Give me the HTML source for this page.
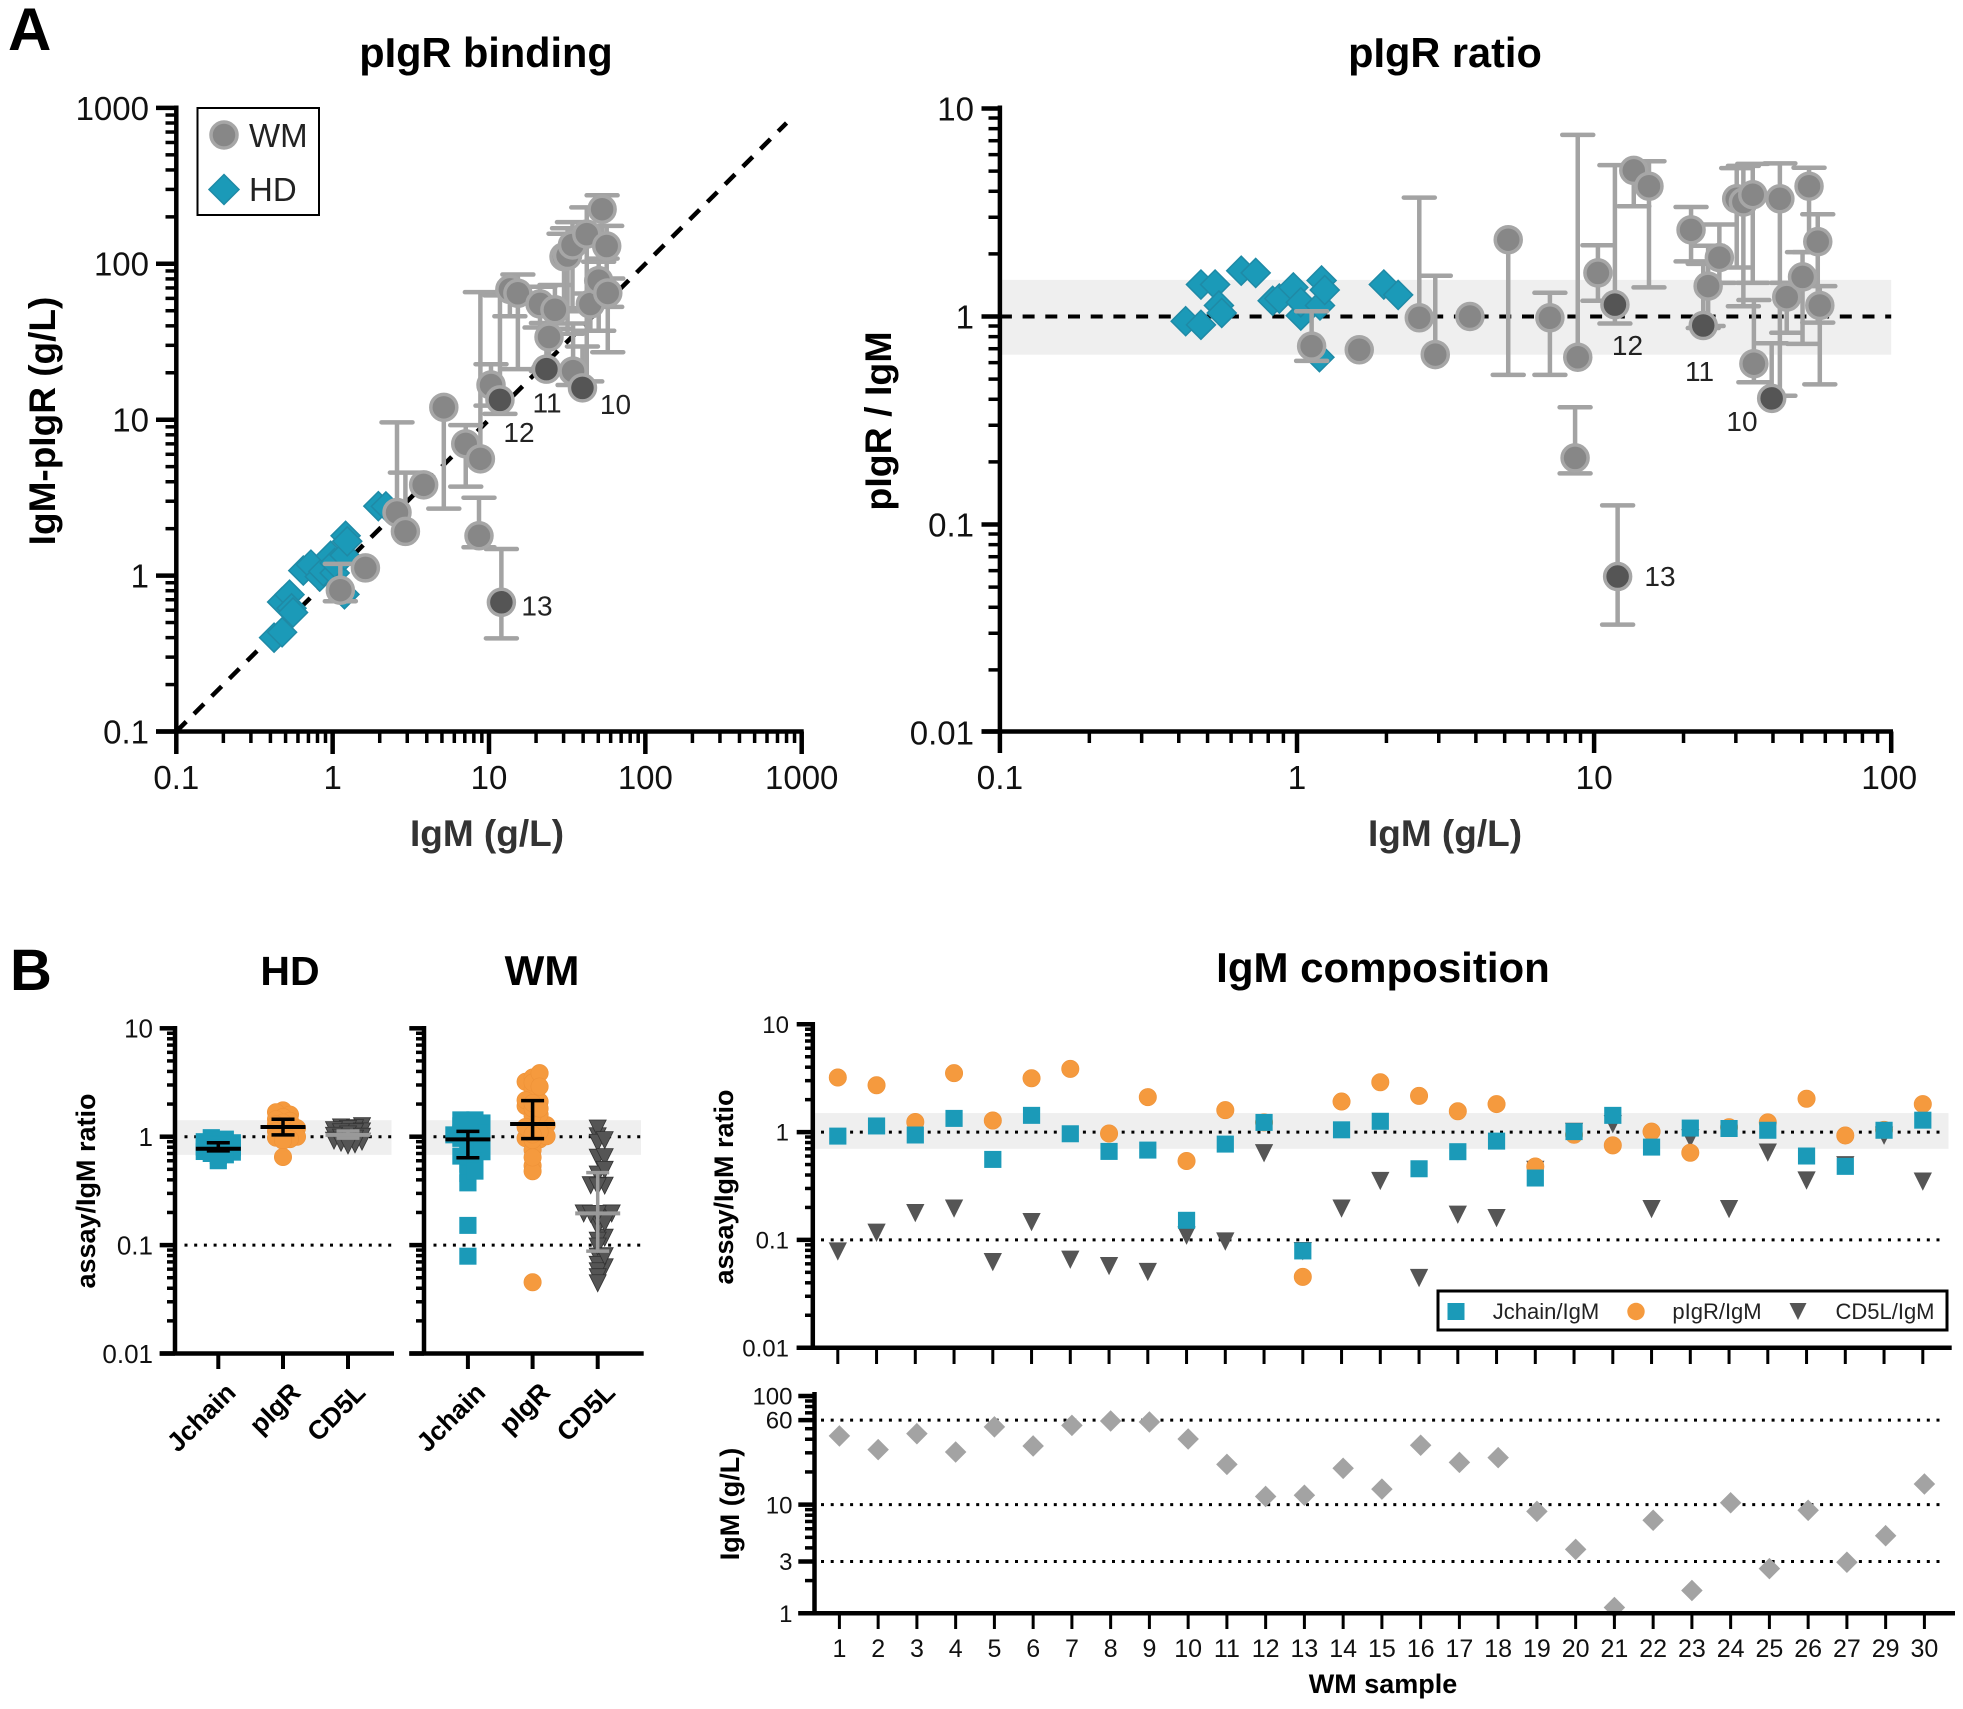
<!DOCTYPE html>
<html lang="en">
<head>
<meta charset="utf-8">
<title>pIgR binding and IgM composition</title>
<style>
html,body{margin:0;padding:0;background:#fff}
svg{display:block;font-family:"Liberation Sans",Arial,sans-serif}
text{fill:#000}
.b{font-weight:bold}
</style>
</head>
<body>
<svg id="figure" xmlns="http://www.w3.org/2000/svg" width="1963" height="1709" viewBox="0 0 1963 1709">
  <rect x="0" y="0" width="1963" height="1709" fill="#fff"/>

  <text class="b" x="8" y="50" font-size="60">A</text>
  <text class="b" x="10" y="990" font-size="58">B</text>

  <text class="b" x="486" y="67" font-size="41.5" text-anchor="middle">pIgR binding</text>
  <text class="b" x="1445" y="67" font-size="41.5" text-anchor="middle">pIgR ratio</text>
  <text class="b" x="290" y="985" font-size="41" text-anchor="middle">HD</text>
  <text class="b" x="542" y="985" font-size="42" text-anchor="middle">WM</text>
  <text class="b" x="1383" y="982" font-size="42" text-anchor="middle">IgM composition</text>

  <text class="b" x="487" y="846" font-size="37" text-anchor="middle" style="fill:#333">IgM (g/L)</text>
  <text class="b" x="1445" y="846" font-size="37" text-anchor="middle" style="fill:#333">IgM (g/L)</text>
  <text class="b" transform="translate(55,421) rotate(-90)" font-size="37" text-anchor="middle">IgM-pIgR (g/L)</text>
  <text class="b" transform="translate(891,421) rotate(-90)" font-size="37.5" text-anchor="middle">pIgR / IgM</text>
  <text class="b" transform="translate(95,1191) rotate(-90)" font-size="27" text-anchor="middle">assay/IgM ratio</text>
  <text class="b" transform="translate(733,1187) rotate(-90)" font-size="27" text-anchor="middle">assay/IgM ratio</text>
  <text class="b" transform="translate(739,1504) rotate(-90)" font-size="27" text-anchor="middle">IgM (g/L)</text>
  <text class="b" x="1383" y="1693" font-size="27" text-anchor="middle">WM sample</text>

  <g id="layer-plots"></g>

  <g>
    <rect x="197.5" y="108" width="121.5" height="107" fill="#fff" stroke="#000" stroke-width="2"/>
    <circle cx="224" cy="135" r="13" fill="#878787" stroke="#a6a6a6" stroke-width="3.5"/>
    <text x="249" y="147" font-size="33" style="fill:#222">WM</text>
    <polygon points="224,174.5 239,189.5 224,204.5 209,189.5" fill="#1b9ab8" stroke="#1f8aa6" stroke-width="1.5"/>
    <text x="249" y="201" font-size="33" style="fill:#222">HD</text>
  </g>

  <g font-size="28">
    <text x="615.5" y="414" text-anchor="middle" style="fill:#222">10</text>
    <text x="547" y="412.5" text-anchor="middle" style="fill:#222">11</text>
    <text x="519" y="442" text-anchor="middle" style="fill:#222">12</text>
    <text x="537" y="615.5" text-anchor="middle" style="fill:#222">13</text>
  </g>
  <g font-size="28">
    <text x="1742" y="431" text-anchor="middle" style="fill:#222">10</text>
    <text x="1699.5" y="381" text-anchor="middle" style="fill:#222">11</text>
    <text x="1627.5" y="355" text-anchor="middle" style="fill:#222">12</text>
    <text x="1660" y="586" text-anchor="middle" style="fill:#222">13</text>
  </g>

  <g>
    <rect x="1438" y="1291" width="509" height="39" fill="#fff" stroke="#000" stroke-width="3"/>
    <rect x="1447.5" y="1303" width="17" height="17" fill="#1b9ab8"/>
    <text x="1546" y="1319" font-size="22" text-anchor="middle" style="fill:#222">Jchain/IgM</text>
    <circle cx="1636" cy="1311.5" r="8.7" fill="#f59a3e"/>
    <text x="1717" y="1319" font-size="22" text-anchor="middle" style="fill:#222">pIgR/IgM</text>
    <polygon points="1789.5,1303 1806.5,1303 1798,1320" fill="#555"/>
    <text x="1885" y="1319" font-size="22" text-anchor="middle" style="fill:#222">CD5L/IgM</text>
  </g>
</svg>

<script>
// ---- panel A: per-donor values ----
const hdIgM = [0.422,0.475,0.475,0.53,0.546,0.558,0.649,0.726,0.828,0.872,0.972,1.03,1.03,1.195,1.21,1.24,1.19,1.96,2.19];
const hdBinding = [0.40,0.433,0.677,0.755,0.617,0.58,1.077,1.176,0.985,1.064,1.341,1.04,1.205,1.35,1.80,1.66,0.758,2.79,2.78];
const hdRatio = [0.949,0.912,1.425,1.425,1.13,1.04,1.66,1.62,1.19,1.22,1.38,1.01,1.17,1.13,1.49,1.34,0.637,1.425,1.27];

const wmIgM = [1.12,1.62,2.58,2.92,3.82,5.14,7.1,8.63,8.81,10.3,11.75,12,13.6,15.3,21.2,23.3,24.2,26.4,30.2,31.8,34.2,34.5,39.6,42.2,44.5,50.3,52.9,56.6,57.5];
const wmBinding = [0.806,1.12,2.54,1.92,3.82,12.0,7.0,1.80,5.61,16.7,13.4,0.674,68.5,64.7,55.3,21.1,33.9,50.7,111,113,132,20.5,16.0,155,55.2,78,224,130,65];
const wmBindingHi = [1.19,1.12,9.62,4.58,3.82,12.0,9.23,3.16,65.8,22.7,62.7,1.48,68.5,85.4,71.2,41.7,53,73.1,156,169,185,41.4,29.5,230,64.5,103,275,175,80.5];
const wmBindingLo = [0.685,1.12,2.54,1.92,3.82,2.69,3.72,1.52,5.61,12.3,10.9,0.396,46.1,21.1,39,20.5,21.8,38.3,51.9,35.6,49.6,16.7,16.0,17.6,37.2,37.2,108,52.9,27.1];
const wmRatio = [0.72,0.692,0.986,0.656,1.0,2.34,0.986,0.209,0.637,1.62,1.14,0.0562,5.04,4.23,2.61,0.905,1.4,1.92,3.68,3.55,3.85,0.593,0.404,3.68,1.24,1.55,4.23,2.29,1.13];
const wmRatioHi = [1.06,0.692,3.73,1.57,1.0,2.34,1.3,0.366,7.47,2.2,5.34,0.1236,5.04,5.58,3.36,1.79,2.19,2.77,5.17,5.3,5.42,1.2,0.744,5.45,1.45,2.04,5.19,3.1,1.4];
const wmRatioLo = [0.612,0.692,0.986,0.656,1.0,0.524,0.524,0.176,0.637,1.19,0.925,0.033,3.39,1.38,1.84,0.88,0.9,1.45,1.72,1.12,1.45,0.483,0.404,0.416,0.835,0.739,2.04,0.935,0.472];
const wmCalloutFlag = [0,0,0,0,0,0,0,0,0,0,1,1,0,0,0,1,0,0,0,0,0,0,1,0,0,0,0,0,0];

const bindingTicks = [0.1,1,10,100,1000];
const bindingTickLabels = ["0.1","1","10","100","1000"];
const ratioXTicks = [0.1,1,10,100];
const ratioXTickLabels = ["0.1","1","10","100"];
const ratioYTicks = [0.01,0.1,1,10];
const ratioYTickLabels = ["0.01","0.1","1","10"];
const ratioBand = [0.655,1.5];

// ---- panel B: per-sample values ----
const sampleLabels = ["1","2","3","4","5","6","7","8","9","10","11","12","13","14","15","16","17","18","19","20","21","22","23","24","25","26","27","29","30"];
const jchainRatio = [0.918,1.14,0.94,1.34,0.558,1.43,0.965,0.662,0.681,0.152,0.774,1.23,0.079,1.05,1.26,0.457,0.658,0.825,0.375,1.01,1.43,0.726,1.09,1.08,1.04,0.6,0.481,1.04,1.29];
const pigrRatio = [3.21,2.72,1.24,3.52,1.28,3.16,3.86,0.97,2.11,0.539,1.6,1.23,0.0454,1.92,2.9,2.17,1.56,1.82,0.48,0.945,0.753,1.01,0.644,1.11,1.23,2.04,0.93,1.05,1.82];
const cd5lRatio = [0.0785,0.117,0.178,0.196,0.0625,0.147,0.0658,0.0574,0.0506,0.11,0.097,0.64,0.079,0.196,0.354,0.0445,0.172,0.16,0.448,1.01,1.19,0.194,0.88,0.194,0.648,0.357,0.495,0.93,0.349];
const sampleIgM = [42.9,32.1,45,30.5,52,34.7,53.7,58.9,57.7,40.2,23.5,11.9,12.2,21.6,13.9,35.2,24.5,27.1,8.68,3.88,1.13,7.18,1.62,10.4,2.58,8.87,2.95,5.18,15.5];

const hdJchain = [0.98,0.95,0.93,0.9,0.88,0.86,0.85,0.83,0.8,0.79,0.78,0.77,0.75,0.73,0.72,0.7,0.68,0.67,0.6];
const hdPigr = [1.75,1.68,1.6,1.52,1.45,1.4,1.35,1.3,1.25,1.2,1.18,1.12,1.08,1.05,1.0,0.98,0.95,0.92,0.65];
const hdCd5l = [1.25,1.22,1.2,1.18,1.15,1.12,1.1,1.1,1.05,1.02,1.0,0.98,0.96,0.94,0.92,0.9,0.88,0.85,0.83];

const stripCategories = ["Jchain","pIgR","CD5L"];
const hdSummaryMid = [0.775,1.23,1.04];
const hdSummaryHi = [0.88,1.45,1.13];
const hdSummaryLo = [0.74,1.04,0.97];
const wmSummaryMid = [0.946,1.31,0.196];
const wmSummaryHi = [1.12,2.15,0.466];
const wmSummaryLo = [0.64,0.96,0.088];

const assayTicks = [0.01,0.1,1,10];
const assayTickLabels = ["0.01","0.1","1","10"];
const stripBand = [0.68,1.42];
const compositionBand = [0.7,1.5];
const assayRefLines = [1,0.1];
const igmTicks = [1,3,10,60,100];
const igmTickLabels = ["1","3","10","60","100"];
const igmRefLines = [60,10,3];

// ---- helpers ----
const SVGNS = "http://www.w3.org/2000/svg";
const root = document.getElementById("layer-plots");
const BLACK = "#000", ERR = "#a3a3a3", GRAYF = "#878787", DARKF = "#555", TEAL = "#1b9ab8", TEALS = "#1f8aa6", ORANGE = "#f59a3e";

function add(tag, attrs, name, parent, text) {
  const node = document.createElementNS(SVGNS, tag);
  for (const k in attrs) node.setAttribute(k, attrs[k]);
  
  
  if (text !== undefined) node.textContent = text;
  (parent || root).appendChild(node);
  return node;
}
function group(name) { return add("g", {}, name); }
function logScale(d0, d1, r0, r1) {
  const a = Math.log10(d0), b = Math.log10(d1);
  return v => r0 + (Math.log10(v) - a) / (b - a) * (r1 - r0);
}
function line(g, x1, y1, x2, y2, stroke, w, name, extra) {
  return add("line", Object.assign({x1, y1, x2, y2, stroke, "stroke-width": w}, extra || {}), name, g);
}
function minorValues(lo, hi) {
  const out = [];
  for (let d = lo; d < hi * 0.999; d *= 10) for (let m = 2; m <= 9; m++) out.push(d * m);
  return out;
}
function circle(g, cx, cy, fill, name) {
  return add("circle", {cx, cy, r: 13, fill, stroke: "#a6a6a6", "stroke-width": 3.5}, name, g);
}
function diamond(g, cx, cy, h, fill, stroke, name) {
  return add("polygon", {points: `${cx},${cy-h} ${cx+h},${cy} ${cx},${cy+h} ${cx-h},${cy}`, fill, stroke, "stroke-width": 1.5}, name, g);
}
function square(g, cx, cy, name) {
  return add("rect", {x: cx-8.6, y: cy-8.5, width: 17.2, height: 17, fill: TEAL}, name, g);
}
function dot(g, cx, cy, name) {
  return add("circle", {cx, cy, r: 8.7, fill: ORANGE, stroke: "#ee9238", "stroke-width": 0.6}, name, g);
}
function tri(g, cx, cy, stroke, name) {
  return add("polygon", {points: `${cx-8.5},${cy-8.5} ${cx+8.5},${cy-8.5} ${cx},${cy+8.5}`, fill: DARKF, stroke, "stroke-width": 0.8}, name, g);
}
function errorBar(g, x, yHi, yLo, yMid, name) {
  const capW = 15.5;
  if (yHi < yMid - 0.5) {
    line(g, x, yMid, x, yHi, ERR, 4.5, name + "-upper");
    line(g, x-capW, yHi, x+capW, yHi, ERR, 4.5, name + "-upper-cap", {"stroke-linecap": "round"});
  }
  if (yLo > yMid + 0.5) {
    line(g, x, yMid, x, yLo, ERR, 4.5, name + "-lower");
    line(g, x-capW, yLo, x+capW, yLo, ERR, 4.5, name + "-lower-cap", {"stroke-linecap": "round"});
  }
}
function labelRight(g, x, y, size, s, name) {
  return add("text", {x, y: y + size * 0.36, "font-size": size, "text-anchor": "end", style: "fill:#111"}, name, g, s);
}
function labelCenter(g, x, y, size, s, name) {
  return add("text", {x, y, "font-size": size, "text-anchor": "middle", style: "fill:#111"}, name, g, s);
}

// ---- panel A left: pIgR binding ----
(function () {
  const x = logScale(0.1, 1000, 176.3, 801.7), y = logScale(0.1, 1000, 731.5, 107.9);
  const g = group("pigr-binding-plot");
  line(g, x(0.1), y(0.1), x(800), y(800), BLACK, 4.5, "identity-line", {"stroke-dasharray": "14 11"});
  hdIgM.forEach((v, i) => diamond(g, x(v), y(hdBinding[i]), 14.5, TEAL, TEALS, "hd-point"));
  wmIgM.forEach((v, i) => errorBar(g, x(v), y(wmBindingHi[i]), y(wmBindingLo[i]), y(wmBinding[i]), "wm-error-bar"));
  wmIgM.forEach((v, i) => { if (!wmCalloutFlag[i]) circle(g, x(v), y(wmBinding[i]), GRAYF, "wm-point"); });
  wmIgM.forEach((v, i) => { if (wmCalloutFlag[i]) circle(g, x(v), y(wmBinding[i]), DARKF, "wm-highlight-point"); });
  const ax = group("pigr-binding-axes");
  line(ax, x(0.1), 105.5, x(0.1), 733.7, BLACK, 4.5, "binding-y-axis");
  line(ax, 156, y(0.1), 803.7, y(0.1), BLACK, 4.5, "binding-x-axis");
  minorValues(0.1, 1000).forEach(v => {
    line(ax, 165.5, y(v), x(0.1), y(v), BLACK, 3.5, "binding-y-minor-tick");
    line(ax, x(v), y(0.1), x(v), 743, BLACK, 3.5, "binding-x-minor-tick");
  });
  bindingTicks.forEach((v, i) => {
    line(ax, 156, y(v), x(0.1), y(v), BLACK, 4.5, "binding-y-tick");
    line(ax, x(v), y(0.1), x(v), 754, BLACK, 4.5, "binding-x-tick");
    labelRight(ax, 149, y(v), 33, bindingTickLabels[i], "binding-y-tick-label");
    labelCenter(ax, x(v), 789, 33, bindingTickLabels[i], "binding-x-tick-label");
  });
})();

// ---- panel A right: pIgR ratio ----
(function () {
  const x = logScale(0.1, 100, 999.9, 1891.2), y = logScale(0.01, 10, 732.5, 108.5);
  const g = group("pigr-ratio-plot");
  add("rect", {x: x(0.1), y: y(ratioBand[1]), width: x(100) - x(0.1), height: y(ratioBand[0]) - y(ratioBand[1]), fill: "#efefef"}, "ratio-normal-band", g);
  line(g, x(0.1), y(1), x(100), y(1), BLACK, 4, "ratio-one-line", {"stroke-dasharray": "12 10.7"});
  hdIgM.forEach((v, i) => diamond(g, x(v), y(hdRatio[i]), 14.5, TEAL, TEALS, "hd-point"));
  wmIgM.forEach((v, i) => errorBar(g, x(v), y(wmRatioHi[i]), y(wmRatioLo[i]), y(wmRatio[i]), "wm-error-bar"));
  wmIgM.forEach((v, i) => { if (!wmCalloutFlag[i]) circle(g, x(v), y(wmRatio[i]), GRAYF, "wm-point"); });
  wmIgM.forEach((v, i) => { if (wmCalloutFlag[i]) circle(g, x(v), y(wmRatio[i]), DARKF, "wm-highlight-point"); });
  const ax = group("pigr-ratio-axes");
  line(ax, x(0.1), 105.5, x(0.1), 733.7, BLACK, 4.5, "ratio-y-axis");
  line(ax, 981.5, 731.5, 1893, 731.5, BLACK, 4.5, "ratio-x-axis");
  minorValues(0.01, 10).forEach(v => line(ax, 988.5, y(v), x(0.1), y(v), BLACK, 3.5, "ratio-y-minor-tick"));
  minorValues(0.1, 100).forEach(v => line(ax, x(v), 731.5, x(v), 743, BLACK, 3.5, "ratio-x-minor-tick"));
  ratioYTicks.forEach((v, i) => {
    line(ax, 981.5, y(v) - (v === 0.01 ? 1 : 0), x(0.1), y(v) - (v === 0.01 ? 1 : 0), BLACK, 4.5, "ratio-y-tick");
    labelRight(ax, 974, y(v), 33, ratioYTickLabels[i], "ratio-y-tick-label");
  });
  ratioXTicks.forEach((v, i) => {
    line(ax, x(v), 731.5, x(v), 753, BLACK, 4.5, "ratio-x-tick");
    labelCenter(ax, x(v) - (i === 3 ? 2 : 0), 789, 33.5, ratioXTickLabels[i], "ratio-x-tick-label");
  });
})();

// ---- panel B strips ----
function swarmOffsets(values, yFn, step, minGap) {
  const order = values.map((v, i) => i).sort((a, b) => values[a] - values[b]);
  const placed = [], off = new Array(values.length).fill(0);
  const cands = [0, step, -step, 2 * step, -2 * step];
  order.forEach(i => {
    const py = yFn(values[i]);
    let best = 0, bestGap = -1;
    for (const c of cands) {
      const same = placed.filter(p => Math.abs(p.x - c) < step * 0.5);
      const gap = same.length ? Math.min.apply(null, same.map(p => Math.abs(p.y - py))) : 999;
      if (gap >= minGap) { best = c; bestGap = gap; break; }
      if (gap > bestGap) { best = c; bestGap = gap; }
    }
    off[i] = best;
    placed.push({x: best, y: py});
  });
  return off;
}
function drawStrip(opts) {
  const y = logScale(0.01, 10, 1353.5, 1028.3);
  const g = group(opts.name + "-strip-plot");
  const x0 = opts.axisX, xs = opts.cats;
  add("rect", {x: x0, y: y(stripBand[1]), width: opts.bandEnd - x0, height: y(stripBand[0]) - y(stripBand[1]), fill: "#efefef"}, opts.name + "-normal-band", g);
  assayRefLines.forEach(v => line(g, x0 + 9.5, y(v), opts.bandEnd, y(v), BLACK, 3, opts.name + "-reference-line", {"stroke-dasharray": "3 6.7"}));
  swarmOffsets(opts.j, y, 7, 5).forEach((o, i) => square(g, xs[0] + o, y(opts.j[i]), opts.name + "-jchain-point"));
  swarmOffsets(opts.p, y, 7, 5).forEach((o, i) => dot(g, xs[1] + o, y(opts.p[i]), opts.name + "-pigr-point"));
  swarmOffsets(opts.c, y, 7, 5).forEach((o, i) => tri(g, xs[2] + o, y(opts.c[i]), "#333", opts.name + "-cd5l-point"));
  xs.forEach((cx, i) => {
    const col = i === 2 ? "#999" : BLACK;
    line(g, cx - 22.5, y(opts.mid[i]), cx + 22.5, y(opts.mid[i]), col, 4, opts.name + "-median-line");
    line(g, cx, y(opts.hi[i]), cx, y(opts.lo[i]), col, 3.5, opts.name + "-range-line");
    line(g, cx - 11.5, y(opts.hi[i]), cx + 11.5, y(opts.hi[i]), col, 3.5, opts.name + "-range-cap");
    line(g, cx - 11.5, y(opts.lo[i]), cx + 11.5, y(opts.lo[i]), col, 3.5, opts.name + "-range-cap");
  });
  const ax = group(opts.name + "-strip-axes");
  line(ax, x0, 1026, x0, 1355.5, BLACK, 4.5, opts.name + "-y-axis");
  line(ax, opts.tickLeft, y(0.01), opts.xEnd, y(0.01), BLACK, 4.5, opts.name + "-x-axis");
  minorValues(0.01, 10).forEach(v => line(ax, opts.minorLeft, y(v), x0, y(v), BLACK, 3.5, opts.name + "-y-minor-tick"));
  assayTicks.forEach((v, i) => {
    line(ax, opts.tickLeft, y(v), x0, y(v), BLACK, 4.5, opts.name + "-y-tick");
    if (opts.labels) labelRight(ax, 153, y(v), 26, assayTickLabels[i], opts.name + "-y-tick-label");
  });
  xs.forEach((cx, i) => {
    line(ax, cx, y(0.01), cx, 1369, BLACK, 4, opts.name + "-x-tick");
    const lx = cx + 19, ly = 1394;
    add("text", {transform: `translate(${lx},${ly}) rotate(-45)`, "font-size": 26.5, "font-weight": "bold", "text-anchor": "end"}, opts.name + "-category-label", ax, stripCategories[i]);
  });
}
drawStrip({name: "hd", axisX: 175, bandEnd: 391.5, xEnd: 394, tickLeft: 159.7, minorLeft: 167, cats: [218.3, 283, 348], j: hdJchain, p: hdPigr, c: hdCd5l, mid: hdSummaryMid, hi: hdSummaryHi, lo: hdSummaryLo, labels: true});
drawStrip({name: "wm", axisX: 424, bandEnd: 641, xEnd: 643.7, tickLeft: 409.3, minorLeft: 416, cats: [467.9, 532.6, 597.7], j: jchainRatio, p: pigrRatio, c: cd5lRatio, mid: wmSummaryMid, hi: wmSummaryHi, lo: wmSummaryLo, labels: false});

// ---- panel B composition ----
(function () {
  const x = i => 837.8 + 38.75 * i;
  const y = logScale(0.01, 10, 1347.7, 1024.3);
  const g = group("composition-plot");
  add("rect", {x: 812.8, y: y(compositionBand[1]), width: 1135.7, height: y(compositionBand[0]) - y(compositionBand[1]), fill: "#efefef"}, "composition-normal-band", g);
  assayRefLines.forEach(v => line(g, 821, y(v), 1945, y(v), BLACK, 3, "composition-reference-line", {"stroke-dasharray": "3 6.7"}));
  cd5lRatio.forEach((v, i) => tri(g, x(i), y(v), "#555", "cd5l-point"));
  pigrRatio.forEach((v, i) => dot(g, x(i), y(v), "pigr-point"));
  jchainRatio.forEach((v, i) => square(g, x(i), y(v), "jchain-point"));
  const ax = group("composition-axes");
  line(ax, 812.8, 1022, 812.8, 1349.7, BLACK, 4.5, "composition-y-axis");
  line(ax, 796.7, y(0.01), 1951.7, y(0.01), BLACK, 4.5, "composition-x-axis");
  minorValues(0.01, 10).forEach(v => line(ax, 805, y(v), 812.8, y(v), BLACK, 3.5, "composition-y-minor-tick"));
  assayTicks.forEach((v, i) => {
    line(ax, 796.7, y(v), 812.8, y(v), BLACK, 4.5, "composition-y-tick");
    labelRight(ax, 789, y(v), 24, assayTickLabels[i], "composition-y-tick-label");
  });
  sampleLabels.forEach((s, i) => line(ax, x(i), y(0.01), x(i), 1364, BLACK, 3, "composition-x-tick"));
})();

// ---- panel B IgM ----
(function () {
  const x = i => 839.4 + 38.75 * i;
  const y = logScale(1, 100, 1613.3, 1396);
  const g = group("igm-plot");
  igmRefLines.forEach(v => line(g, 821, y(v), 1945, y(v), BLACK, 3, "igm-reference-line", {"stroke-dasharray": "3 6.7"}));
  sampleIgM.forEach((v, i) => diamond(g, x(i), y(v), 9.7, "#a3a3a3", "#a3a3a3", "igm-point"));
  const ax = group("igm-axes");
  line(ax, 814.5, 1392, 814.5, 1615.3, BLACK, 4.5, "igm-y-axis");
  line(ax, 798.3, y(1), 1955, y(1), BLACK, 4.5, "igm-x-axis");
  minorValues(1, 100).forEach(v => line(ax, 805, y(v), 814.5, y(v), BLACK, 3.5, "igm-y-minor-tick"));
  igmTicks.forEach((v, i) => {
    line(ax, 798.3, y(v), 814.5, y(v), BLACK, 4.5, "igm-y-tick");
    labelRight(ax, 792.5, y(v), 24, igmTickLabels[i], "igm-y-tick-label");
  });
  sampleLabels.forEach((s, i) => {
    line(ax, x(i), y(1), x(i), 1629, BLACK, 3, "igm-x-tick");
    labelCenter(ax, x(i), 1657, 25, s, "igm-x-tick-label");
  });
})();
</script>
</body>
</html>
